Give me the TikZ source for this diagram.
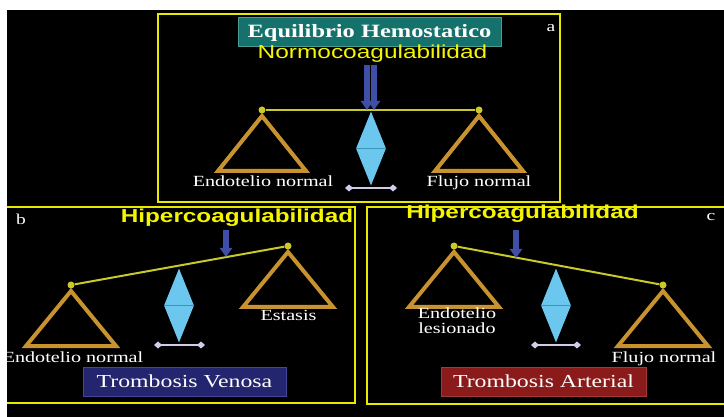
\documentclass[tikz,border=0pt]{standalone}
\usepackage{fontspec}
\setmainfont{Liberation Serif}
\newfontfamily\slideserif[FakeStretch=1.3]{Liberation Serif}
\newfontfamily\slidesans[FakeStretch=1.3]{Liberation Sans}
\usetikzlibrary{shapes.geometric, arrows.meta}
\definecolor{frameYellow}{HTML}{E8E800}
\definecolor{titleYellow}{HTML}{F5F500}
\definecolor{beamYellow}{HTML}{C9C92A}
\definecolor{panGold}{HTML}{C8922E}
\definecolor{fulcrumBlue}{HTML}{6CC7EF}
\definecolor{fulcrumLine}{HTML}{3C93B8}
\definecolor{footLilac}{HTML}{D2CBEA}
\definecolor{pushBlue}{HTML}{3F4EA6}
\definecolor{tealBox}{HTML}{14716B}
\definecolor{tealEdge}{HTML}{4A9C92}
\definecolor{navyBox}{HTML}{23256F}
\definecolor{navyEdge}{HTML}{45469A}
\definecolor{redBox}{HTML}{8B1B1B}
\definecolor{redEdge}{HTML}{A33A3A}

\begin{document}
\begin{tikzpicture}[x=1pt, y=-1pt,
		panel/.style={draw=frameYellow, line width=2.6pt},
		pivot/.style={circle, fill=beamYellow, inner sep=0pt, minimum size=7pt},
		beam/.style={draw=beamYellow, line width=2pt},
		pan/.style={draw=panGold, line width=4pt, line join=miter},
		fulcrum/.style={diamond, fill=fulcrumBlue, inner sep=0pt,
			minimum width=30pt, minimum height=74pt},
		midline/.style={draw=fulcrumLine, line width=1pt},
		footbar/.style={draw=footLilac, line width=2.6pt,
			{Diamond[width=7pt,length=8pt]}-{Diamond[width=7pt,length=8pt]}},
		pusher/.style={draw=pushBlue, line width=6.5pt,
			-{Triangle[width=12pt,length=9pt]}},
		caption/.style={text=white, font=\slideserif\fontsize{15.5}{15}\selectfont,
			inner sep=0pt, anchor=base, align=center},
		headline/.style={text=titleYellow, font=\slidesans\bfseries\fontsize{18.7}{20}\selectfont,
			inner sep=0pt, anchor=base},
		normhead/.style={text=titleYellow, font=\slidesans\fontsize{18.8}{20}\selectfont,
			inner sep=0pt, anchor=base},
		tag/.style={text=white, font=\slideserif\fontsize{15}{15}\selectfont,
			inner sep=0pt, anchor=base},
		banner/.style={text=white, font=\slideserif\fontsize{18.3}{20}\selectfont,
			minimum width=203pt, minimum height=29pt, inner sep=0pt, line width=1pt}
		]
		
		\path[use as bounding box, clip] (0,0) rectangle (724,417);
		\fill[white] (0,0) rectangle (724,417);
		\fill[black] (7,10) rectangle (724,417);
		
		% panels
		\draw[panel] (158,14) rectangle (560,202);
		\draw[panel] (3,207) rectangle (355,403);
		\draw[panel] (367,207) rectangle (730,404);
		
		% a: balance
		\node[banner, fill=tealBox, draw=tealEdge, minimum width=263pt,
		font=\slideserif\bfseries\fontsize{18.8}{20}\selectfont] (title) at (369.5,32.5)
		{Equilibrio Hemostatico};
		\node[normhead] (norm) at (372.5,59) {Normocoagulabilidad};
		\node[tag] (tag-a) at (551,32) {a};
		
		\node[pivot] (pa1) at (262,110) {};
		\node[pivot] (pa2) at (479,110) {};
		\draw[beam] (pa1) -- (pa2);
		\draw[pan] ([yshift=-6pt]pa1.center) -- ++(-44,55) -- ++(88,0) -- cycle;
		\draw[pan] ([yshift=-6pt]pa2.center) -- ++(-44,55) -- ++(88,0) -- cycle;
		
		\node[fulcrum] (fa) at (371,148.5) {};
		\draw[midline] (fa.west) -- (fa.east);
		\coordinate (fa-l) at (345,188);
		\coordinate (fa-r) at (397,188);
		\draw[footbar] (fa-l) -- (fa-r);
		
		\node[caption] (ea) at (263,187) {Endotelio normal};
		\node[caption] (ba) at (479,187) {Flujo normal};
		
		\coordinate (push-a1) at (367,65);
		\coordinate (tip-a1) at (367,110);
		\coordinate (push-a2) at (374,65);
		\coordinate (tip-a2) at (374,110);
		\draw[pusher] (push-a1) -- (tip-a1);
		\draw[pusher] (push-a2) -- (tip-a2);
		
		% b: venosa
		\node[tag] (tag-b) at (21,225) {b};
		\node[headline] (hiper-b) at (237,223) {Hipercoagulabilidad};
		
		\node[pivot] (pb1) at (71,285) {};
		\node[pivot] (pb2) at (288,246) {};
		\draw[beam] (pb1) -- (pb2);
		\draw[pan] ([yshift=-6pt]pb1.center) -- ++(-45,55) -- ++(90,0) -- cycle;
		\draw[pan] ([yshift=-6pt]pb2.center) -- ++(-45,55) -- ++(90,0) -- cycle;
		
		\node[fulcrum] (fb) at (179,305.5) {};
		\draw[midline] (fb.west) -- (fb.east);
		\coordinate (fb-l) at (154,345);
		\coordinate (fb-r) at (205,345);
		\draw[footbar] (fb-l) -- (fb-r);
		
		\node[caption] (eb) at (73,362) {Endotelio normal};
		\node[caption] (bb) at (288.5,320) {Estasis};
		
		\coordinate (push-b) at (226,230);
		\coordinate (tip-b) at (226,257);
		\draw[pusher] (push-b) -- (tip-b);
		
		\node[banner, fill=navyBox, draw=navyEdge] (venosa) at (184.5,381.5)
		{Trombosis Venosa};
		
		% c: arterial
		\node[tag] (tag-c) at (711,221) {c};
		\node[headline] (hiper-c) at (522.5,219) {Hipercoagulabilidad};
		
		\node[pivot] (pc1) at (454,246) {};
		\node[pivot] (pc2) at (663,285) {};
		\draw[beam] (pc1) -- (pc2);
		\draw[pan] ([yshift=-6pt]pc1.center) -- ++(-45,55) -- ++(90,0) -- cycle;
		\draw[pan] ([yshift=-6pt]pc2.center) -- ++(-45,55) -- ++(90,0) -- cycle;
		
		\node[fulcrum] (fc) at (556,305.5) {};
		\draw[midline] (fc.west) -- (fc.east);
		\coordinate (fc-l) at (531,345);
		\coordinate (fc-r) at (581,345);
		\draw[footbar] (fc-l) -- (fc-r);
		
		\node[caption, anchor=north] (ec) at (457,308) {Endotelio\\lesionado};
		\node[caption] (bc) at (664,362) {Flujo normal};
		
		\coordinate (push-c) at (516,230);
		\coordinate (tip-c) at (516,258);
		\draw[pusher] (push-c) -- (tip-c);
		
		\node[banner, fill=redBox, draw=redEdge, minimum width=205pt] (arterial) at (543.5,381.5)
		{Trombosis Arterial};
		
		\fill[white] (0,10) rectangle (7,417);
		
	\end{tikzpicture}
\end{document}
